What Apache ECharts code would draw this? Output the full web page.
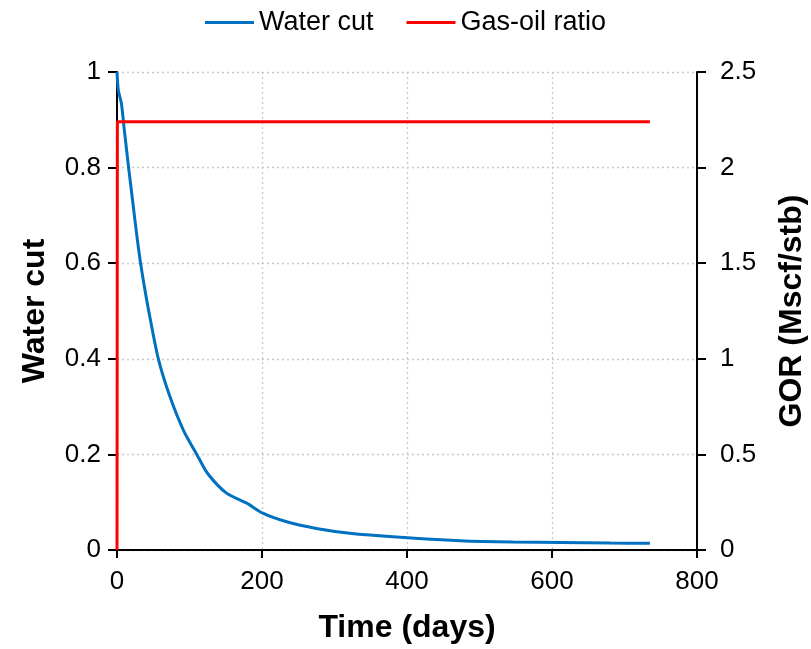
<!DOCTYPE html>
<html>
<head>
<meta charset="utf-8">
<script src="https://cdn.jsdelivr.net/npm/echarts@6/dist/echarts.min.js"></script>
<style>html,body{margin:0;padding:0;background:#fff}#c{width:811px;height:649px}</style>
</head>
<body>
<div id="c"></div>
<script>
var days = [0, 1.8, 6, 10, 16, 22, 28, 33, 39, 45, 57, 73, 91.5, 110, 125, 151, 179, 201, 234, 275, 321, 386, 473, 546, 680, 735];
var waterCut = [1.0, 0.962, 0.935, 0.88, 0.80, 0.725, 0.65, 0.595, 0.54, 0.49, 0.40, 0.321, 0.251, 0.20, 0.160, 0.119, 0.098, 0.077, 0.059, 0.045, 0.035, 0.027, 0.0195, 0.0167, 0.0146, 0.014];
var gorDays = [0, 0.5, 735];
var gor = [0, 2.24, 2.24];

var font = 'Liberation Sans, Arial, sans-serif';
var chart = echarts.init(document.getElementById('c'));
var gridLine = {show: true, lineStyle: {color: '#c8c8c8', type: [2, 3], width: 1.3}};
chart.setOption({
  animation: false,
  legend: {
    top: 4, left: 'center', itemWidth: 49, itemGap: 33, icon: 'rect', itemHeight: 3,
    textStyle: {fontFamily: font, fontSize: 27, color: '#000'},
    data: ['Water cut', 'Gas-oil ratio']
  },
  grid: {left: 117, right: 114, top: 72, bottom: 99, containLabel: false, outerBoundsMode: 'none'},
  xAxis: {
    type: 'value', min: 0, max: 800, interval: 200,
    name: 'Time (days)', nameLocation: 'middle', nameGap: 62,
    nameTextStyle: {fontFamily: font, fontSize: 32, fontWeight: 'bold', color: '#000'},
    axisLine: {show: true, lineStyle: {color: '#000', width: 2}},
    axisTick: {show: true, length: 8, lineStyle: {color: '#000', width: 2}},
    axisLabel: {fontFamily: font, fontSize: 26, color: '#000', margin: 19},
    splitLine: gridLine
  },
  yAxis: [{
    type: 'value', min: 0, max: 1, interval: 0.2,
    name: 'Water cut', nameLocation: 'middle', nameGap: 66, nameRotate: 90,
    nameTextStyle: {fontFamily: font, fontSize: 32, fontWeight: 'bold', color: '#000'},
    axisLine: {show: true, lineStyle: {color: '#000', width: 2}},
    axisTick: {show: true, length: 9, lineStyle: {color: '#000', width: 2}},
    axisLabel: {fontFamily: font, fontSize: 26, color: '#000', margin: 16},
    splitLine: gridLine
  }, {
    type: 'value', min: 0, max: 2.5, interval: 0.5, position: 'right',
    name: 'GOR (Mscf/stb)', nameLocation: 'middle', nameGap: 79, nameRotate: 90,
    nameTextStyle: {fontFamily: font, fontSize: 32, fontWeight: 'bold', color: '#000'},
    axisLine: {show: true, lineStyle: {color: '#000', width: 2}},
    axisTick: {show: true, length: 9, lineStyle: {color: '#000', width: 2}},
    axisLabel: {fontFamily: font, fontSize: 26, color: '#000', margin: 23},
    splitLine: {show: false}
  }],
  series: [{
    name: 'Water cut', type: 'line', yAxisIndex: 0, showSymbol: false, smooth: 0.25,
    lineStyle: {color: '#0070C0', width: 3}, itemStyle: {color: '#0070C0'},
    data: days.map(function (d, i) { return [d, waterCut[i]]; })
  }, {
    name: 'Gas-oil ratio', type: 'line', yAxisIndex: 1, showSymbol: false,
    lineStyle: {color: '#FF0000', width: 3}, itemStyle: {color: '#FF0000'},
    data: gorDays.map(function (d, i) { return [d, gor[i]]; })
  }]
});
</script>
</body>
</html>
